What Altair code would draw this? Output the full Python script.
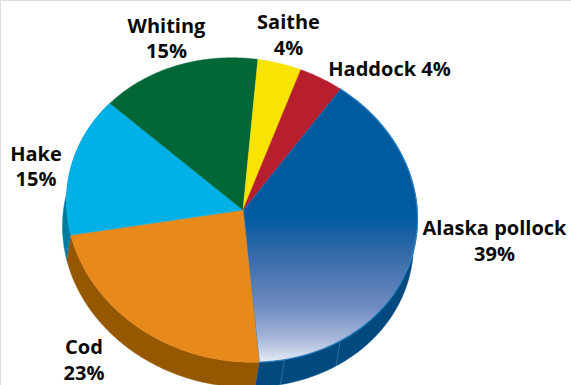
import math
import altair as alt
import pandas as pd

# Supply shares by species, clockwise from the upper right of the pie
species = ["Alaska pollock", "Cod", "Hake", "Whiting", "Saithe", "Haddock"]
shares = [39, 23, 15, 15, 4, 4]
top_colors = ["#005a9e", "#e8891c", "#00b0e6", "#026737", "#f9e300", "#b71f2e"]
wall_colors = {"Alaska pollock": "#004a80", "Cod": "#955700", "Hake": "#007ba0"}
seam_angles = [146, 166]

label_text = ["Whiting\n15%", "Saithe\n4%", "Haddock 4%", "Hake\n15%", "Alaska pollock\n39%", "Cod\n23%"]
label_x = [166.5, 288.5, 389.5, 36, 494.5, 84]
label_y = [26.5, 23, 70, 154.5, 229, 348]

W, H = 571, 385
CX, CY = 242, 210      # centre of the tilted pie top
RX, RY = 175.5, 152    # radii of the ellipse
SHEAR = 0.05           # the ellipse leans down towards the right
APEX = (243, 210)
DX, DY = -4, 25        # offset of the lower rim
START = 34

x_scale = alt.Scale(domain=[0, W], range=[0, W], nice=False, zero=False)
y_scale = alt.Scale(domain=[0, H], range=[0, H], nice=False, zero=False)
X = alt.X("x:Q", scale=x_scale, axis=None)
Y = alt.Y("y:Q", scale=y_scale, axis=None)


def rim(t, dx=0, dy=0):
    a = math.radians(t)
    across = RX * math.sin(a)
    return CX + across + dx, CY - RY * math.cos(a) + SHEAR * across + dy


def sweep(a0, a1):
    n = max(int(abs(a1 - a0)), 2)
    return [a0 + (a1 - a0) * i / n for i in range(n + 1)]


def outline(points):
    return pd.DataFrame([{"x": p[0], "y": p[1], "o": i} for i, p in enumerate(points)])


spans = []
angle = START
for share in shares:
    spans.append((angle, angle + share * 3.6))
    angle += share * 3.6

walls = []
tops = []
for name, share, color, (a0, a1) in zip(species, shares, top_colors, spans):
    if name in wall_colors:
        pts = [rim(t) for t in sweep(a0, a1)] + [rim(t, DX, DY) for t in sweep(a1, a0)]
        walls.append(
            alt.Chart(outline(pts))
            .mark_line(fill=wall_colors[name], stroke=wall_colors[name], strokeWidth=0.5, clip=True)
            .encode(x=X, y=Y, order="o:Q")
        )
    pts = [APEX] + [rim(t) for t in sweep(a0, a1)] + [APEX]
    if name == "Alaska pollock":
        fill = alt.Gradient(
            gradient="linear", x1=0, y1=0, x2=0, y2=1,
            stops=[
                alt.GradientStop(offset=0, color="#005a9e"),
                alt.GradientStop(offset=0.47, color="#005a9e"),
                alt.GradientStop(offset=0.62, color="#3a6cab"),
                alt.GradientStop(offset=0.8, color="#6f8cc0"),
                alt.GradientStop(offset=0.92, color="#abb9dc"),
                alt.GradientStop(offset=1, color="#e6ecf6"),
            ],
        )
        mark = alt.Chart(outline(pts)).mark_line(fill=fill, stroke="#2a84c4", strokeWidth=1.2, clip=True)
    else:
        mark = alt.Chart(outline(pts)).mark_line(fill=color, stroke=color, strokeWidth=0.5, clip=True)
    tops.append(mark.encode(x=X, y=Y, order="o:Q"))

seams = []
for t in seam_angles:
    seams.append(
        alt.Chart(outline([rim(t), rim(t, DX, DY)]))
        .mark_line(stroke="#3f7fae", strokeWidth=0.7, clip=True)
        .encode(x=X, y=Y, order="o:Q")
    )

labels = (
    alt.Chart(pd.DataFrame({"t": label_text, "x": label_x, "y": label_y}))
    .mark_text(font="Open Sans", fontWeight="bold", fontSize=20, color="#0a0a0a",
               lineBreak="\n", lineHeight=25.5, align="center", baseline="middle")
    .encode(x=X, y=Y, text="t:N")
)

chart = (
    alt.layer(*walls, *seams, *tops, labels)
    .properties(width=W, height=H, padding=0, autosize=alt.AutoSizeParams(type="none"))
    .configure_view(stroke=None)
    .configure(background="white")
)
chart.save("out.html", embed_options={"renderer": "svg", "actions": False})
